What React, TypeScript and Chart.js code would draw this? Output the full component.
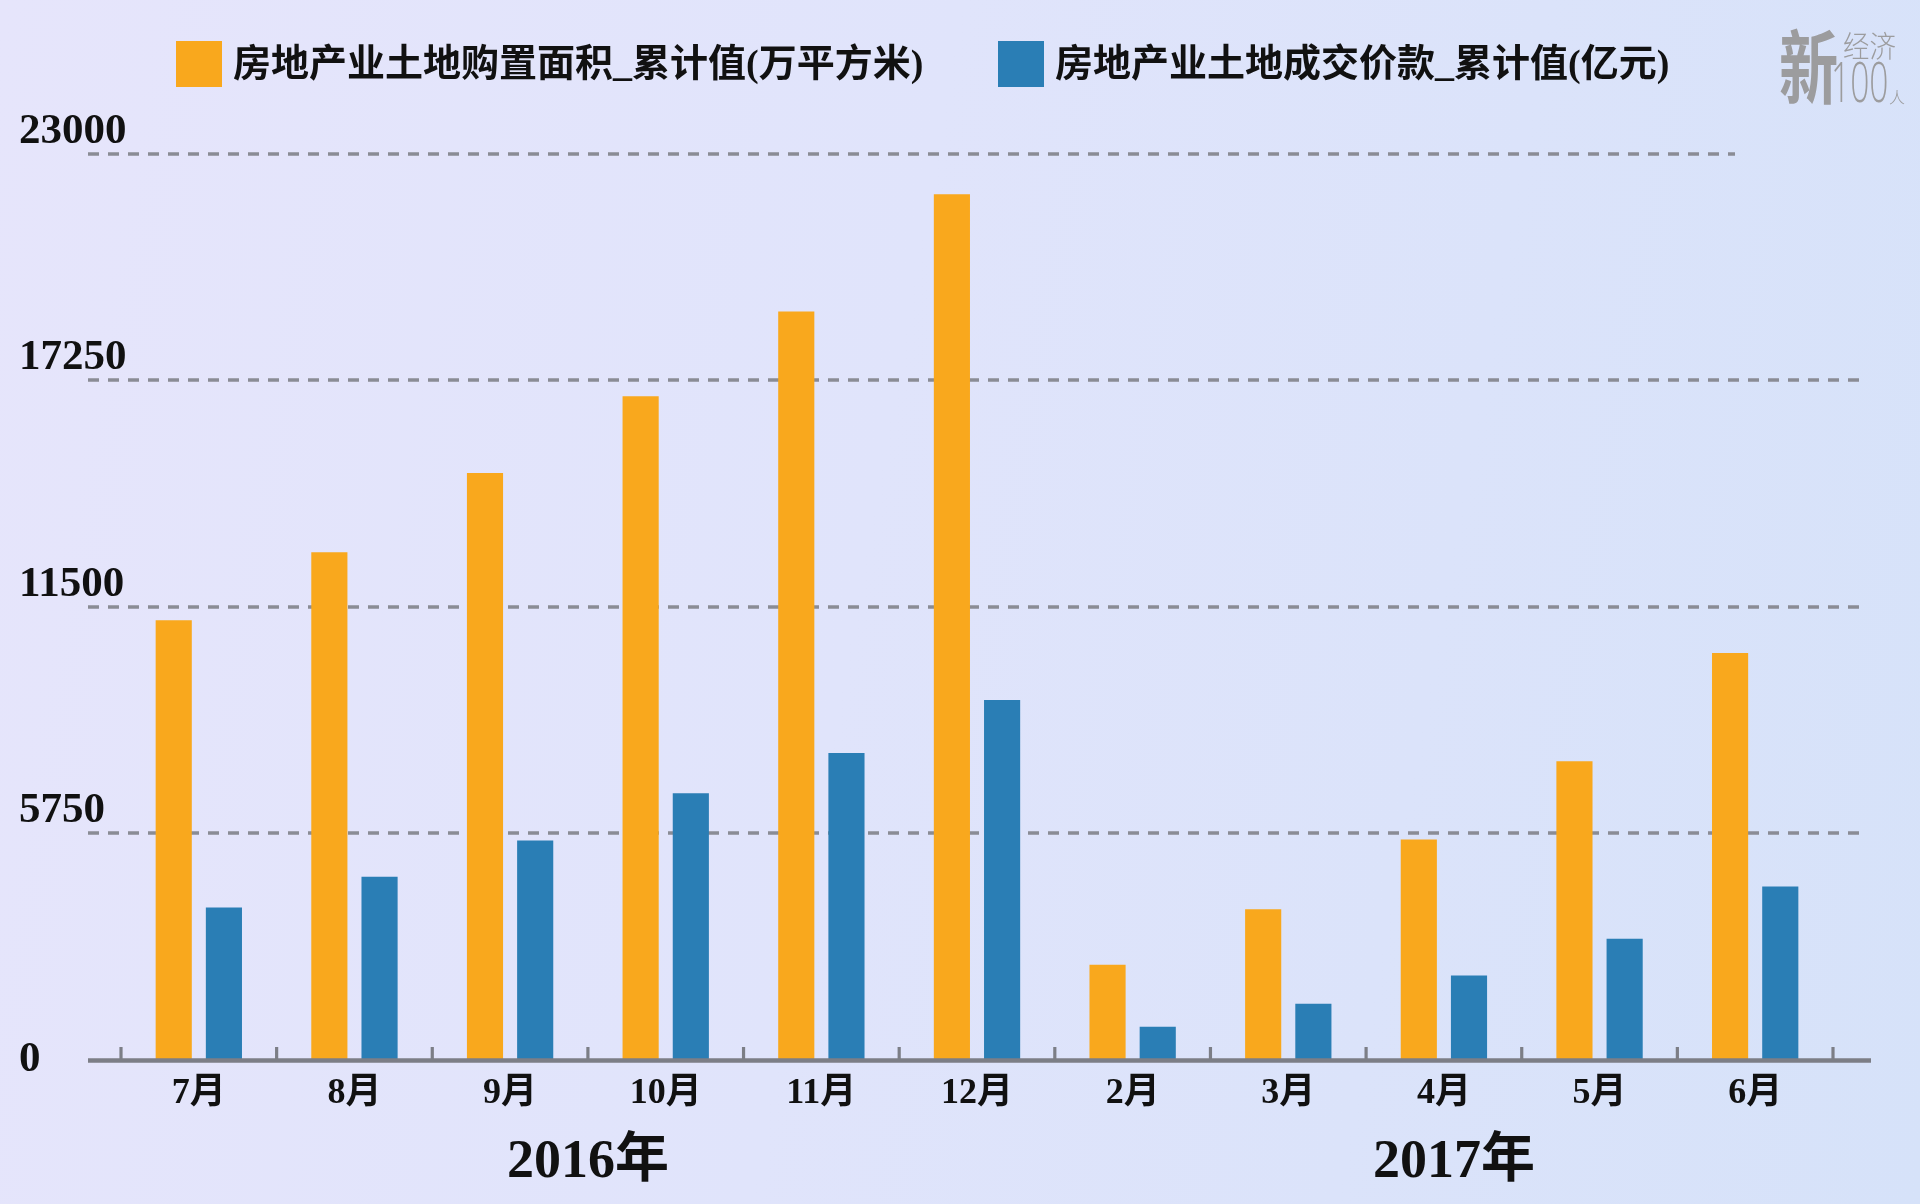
import React, { useEffect, useRef } from "react";
import { Chart, registerables } from "chart.js";

Chart.register(...registerables);

const categories = ["7月", "8月", "9月", "10月", "11月", "12月", "2月", "3月", "4月", "5月", "6月"];
const areaValues = [11150, 12880, 14895, 16845, 18995, 21975, 2395, 3808, 5581, 7566, 10317];
const priceValues = [3849, 4630, 5554, 6755, 7776, 9124, 818, 1406, 2121, 3057, 4382];
const seriesNames = ["房地产业土地购置面积_累计值(万平方米)", "房地产业土地成交价款_累计值(亿元)"];
const seriesColors = ["#F9A81D", "#2A7EB5"];
const yTicks = [0, 5750, 11500, 17250, 23000];
const yearLabels = ["2016年", "2017年"];
const yearFirstIndex = [0, 6];
const yearLastIndex = [5, 10];

const FONT = "'Liberation Serif', 'Noto Sans CJK SC', serif";
const CJK = "'Noto Sans CJK SC', 'Noto Sans', sans-serif";

function drawScaled(ctx: CanvasRenderingContext2D, text: string, x: number, y: number, font: string, sx: number) {
  ctx.save();
  ctx.translate(x, y);
  ctx.scale(sx, 1);
  ctx.font = font;
  ctx.fillText(text, 0, 0);
  ctx.restore();
}

const decorPlugin = {
  id: "decor",
  beforeDatasetsDraw(chart: any) {
    const { ctx, scales } = chart;
    const y = scales.y;
    ctx.save();
    ctx.strokeStyle = "#8a8c95";
    ctx.lineWidth = 3.6;
    ctx.setLineDash([11, 9]);
    const maxTick = yTicks[yTicks.length - 1];
    yTicks.forEach((v) => {
      if (v === 0) return;
      const py = Math.round(y.getPixelForValue(v));
      const x0 = 88;
      const x1 = v === maxTick ? 1735 : 1860;
      ctx.beginPath();
      ctx.moveTo(x0, py);
      ctx.lineTo(x1, py);
      ctx.stroke();
    });
    ctx.restore();
  },
  afterDatasetsDraw(chart: any) {
    const { ctx, scales } = chart;
    const x = scales.x;
    const y = scales.y;
    const zeroY = y.getPixelForValue(0);
    const catW = x.getPixelForValue(1) - x.getPixelForValue(0);
    ctx.save();
    // axis line
    ctx.strokeStyle = "#7c7e86";
    ctx.lineWidth = 4.5;
    ctx.beginPath();
    ctx.moveTo(88, zeroY + 1.5);
    ctx.lineTo(1871, zeroY + 1.5);
    ctx.stroke();
    // category boundary ticks
    ctx.lineWidth = 3.2;
    for (let i = 0; i <= categories.length; i++) {
      const bx = x.getPixelForValue(0) - catW / 2 + i * catW;
      ctx.beginPath();
      ctx.moveTo(bx, zeroY);
      ctx.lineTo(bx, zeroY - 12);
      ctx.stroke();
    }
    // y labels
    ctx.fillStyle = "#111111";
    ctx.font = `bold 43px ${FONT}`;
    ctx.textAlign = "left";
    ctx.textBaseline = "middle";
    yTicks.forEach((v) => {
      const py = y.getPixelForValue(v);
      ctx.fillText(String(v), 19, v === 0 ? py + 1 : py - 22);
    });
    // x labels
    ctx.font = `bold 36px ${FONT}`;
    ctx.textAlign = "center";
    categories.forEach((c, i) => {
      ctx.fillText(c, x.getPixelForValue(i), zeroY + 35);
    });
    // year labels
    ctx.font = `bold 54px ${FONT}`;
    yearLabels.forEach((lab, k) => {
      const cx = (x.getPixelForValue(yearFirstIndex[k]) + x.getPixelForValue(yearLastIndex[k])) / 2;
      ctx.fillText(lab, cx + (k === 1 ? 10 : 0), zeroY + 104);
    });
    // legend
    const legendX = [176, 998];
    ctx.font = `bold 38px ${FONT}`;
    ctx.textAlign = "left";
    chart.data.datasets.forEach((ds: any, i: number) => {
      ctx.fillStyle = ds.backgroundColor;
      ctx.fillRect(legendX[i], 41, 46, 46);
      ctx.fillStyle = "#111111";
      ctx.fillText(ds.label, legendX[i] + 57, 66);
    });
    // watermark
    ctx.fillStyle = "#9c9c9e";
    ctx.textBaseline = "alphabetic";
    ctx.textAlign = "left";
    drawScaled(ctx, "新", 1779, 97, `bold 80px ${CJK}`, 0.74);
    drawScaled(ctx, "经济", 1843, 57, `300 30px ${CJK}`, 0.88);
    drawScaled(ctx, "100", 1831, 102, `300 56px 'Open Sans', 'Noto Sans', sans-serif`, 0.6);
    drawScaled(ctx, "人", 1889, 103, `300 16px ${CJK}`, 1);
    ctx.restore();
  },
};

export default function App() {
  const canvasRef = useRef<HTMLCanvasElement | null>(null);

  useEffect(() => {
    document.body.style.margin = "0";
    const canvas = canvasRef.current;
    if (!canvas) return;
    const chart = new Chart(canvas, {
      type: "bar",
      data: {
        labels: categories,
        datasets: [
          {
            label: seriesNames[0],
            data: areaValues,
            backgroundColor: seriesColors[0],
            borderWidth: 0,
            categoryPercentage: 0.645,
            barPercentage: 0.72,
          },
          {
            label: seriesNames[1],
            data: priceValues,
            backgroundColor: seriesColors[1],
            borderWidth: 0,
            categoryPercentage: 0.645,
            barPercentage: 0.72,
          },
        ],
      },
      options: {
        animation: false,
        responsive: false,
        devicePixelRatio: 1,
        layout: { padding: { left: 121, right: 87, top: 154, bottom: 145 } },
        plugins: { legend: { display: false }, tooltip: { enabled: false } },
        scales: {
          x: { display: false, offset: true },
          y: { display: false, min: 0, max: 23000, ticks: { stepSize: 5750 } },
        },
      },
      plugins: [decorPlugin],
    });
    return () => chart.destroy();
  }, []);

  return (
    <div
      style={{
        position: "fixed",
        left: 0,
        top: 0,
        width: 1920,
        height: 1204,
        background: "linear-gradient(100deg, #e6e5fb 0%, #e0e4fb 45%, #d6e2f9 100%)",
      }}
    >
      <canvas ref={canvasRef} width={1920} height={1204} style={{ width: 1920, height: 1204, display: "block" }} />
    </div>
  );
}
